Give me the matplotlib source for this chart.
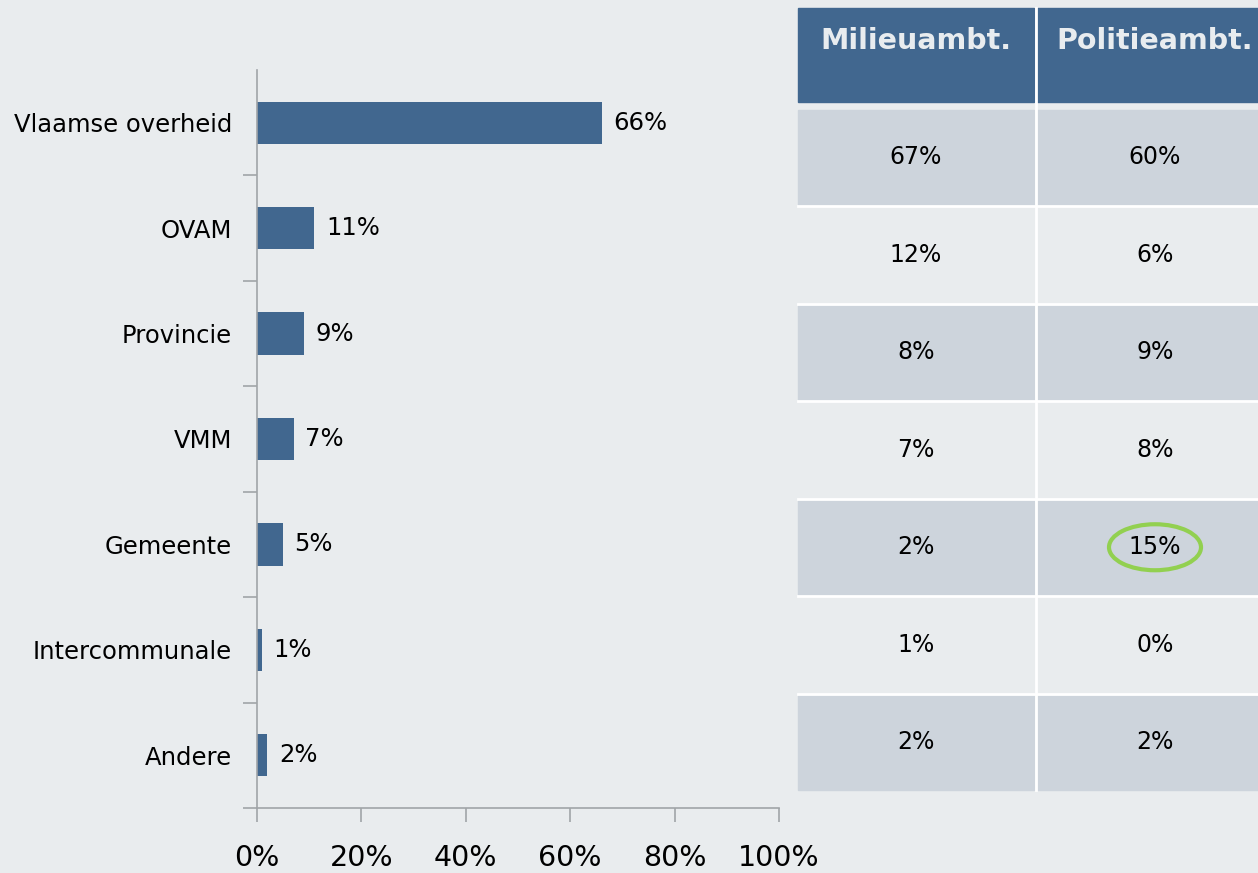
import matplotlib.pyplot as plt
from matplotlib.patches import Rectangle, Ellipse
from matplotlib.ticker import FixedLocator

# data
categorieen = ["Vlaamse overheid", "OVAM", "Provincie", "VMM", "Gemeente",
               "Intercommunale", "Andere"]
totaal = [66, 11, 9, 7, 5, 1, 2]
kolommen = ["Milieuambt.", "Politieambt."]
milieu = [67, 12, 8, 7, 2, 1, 2]
politie = [60, 6, 9, 8, 15, 0, 2]
x_ticks = [0, 20, 40, 60, 80, 100]

bg = "#E9ECEE"
blauw = "#41678F"
grijs = "#CDD4DC"
as_kleur = "#A0A4A8"

W, H = 1258, 873
fig = plt.figure(figsize=(W / 100, H / 100), dpi=100, facecolor=bg)

# ==========================================
# Staafdiagram
# ==========================================
ax = fig.add_axes([257 / W, 1 - 808 / H, (779 - 257) / W, (808 - 70) / H])
ax.set_facecolor(bg)
pos = list(range(len(categorieen)))
ax.barh(pos, totaal, height=0.4, color=blauw)
for p, v in zip(pos, totaal):
    ax.text(v + 2.2, p, f"{v}%", va="center", ha="left", fontsize=17.5, color="black")

ax.set_xlim(0, 100)
ax.set_ylim(len(categorieen) - 0.5, -0.5)
ax.set_yticks(pos)
ax.set_yticklabels(categorieen, fontsize=17.5)
ax.tick_params(axis="y", which="major", length=0, pad=18)
ax.yaxis.set_minor_locator(FixedLocator([p + 0.5 for p in pos]))
ax.tick_params(axis="y", which="minor", length=10, color=as_kleur, width=1.2)
ax.set_xticks(x_ticks)
ax.set_xticklabels([f"{t}%" for t in x_ticks], fontsize=20.5)
ax.tick_params(axis="x", length=10, color=as_kleur, width=1.2, pad=16)
for s in ["top", "right"]:
    ax.spines[s].set_visible(False)
for s in ["left", "bottom"]:
    ax.spines[s].set_color(as_kleur)
    ax.spines[s].set_linewidth(1.2)

# ==========================================
# Tabel
# ==========================================
tx = fig.add_axes([0, 0, 1, 1])
tx.set_xlim(0, W)
tx.set_ylim(H, 0)
tx.axis("off")
tx.patch.set_alpha(0)

x0, kol_b, gap = 798, 236, 3
kop_top, kop_h = 8, 94
rij_top, rij_h = 110, 97.5

for j, naam in enumerate(kolommen):
    x = x0 + j * (kol_b + gap)
    tx.add_patch(Rectangle((x, kop_top), kol_b, kop_h, color=blauw))
    tx.text(x + kol_b / 2, kop_top + 33, naam, ha="center", va="center",
            fontsize=20.5, fontweight="bold", color="#E8ECEF")
    waarden = milieu if j == 0 else politie
    for i, v in enumerate(waarden):
        y = rij_top + i * rij_h
        kleur = grijs if i % 2 == 0 else bg
        tx.add_patch(Rectangle((x, y), kol_b, rij_h - gap, color=kleur))
        tx.text(x + kol_b / 2, y + (rij_h - gap) / 2, f"{v}%", ha="center",
                va="center", fontsize=17, color="black")

# witte scheidingslijnen tussen de rijen
for i in range(1, len(milieu)):
    y = rij_top + i * rij_h - gap / 2
    tx.plot([x0, W], [y, y], color="white", lw=2)
tx.plot([x0 + kol_b + gap / 2] * 2, [kop_top, rij_top + len(milieu) * rij_h - gap],
        color="white", lw=2)

# groene markering rond 15%
i_max = politie.index(15)
tx.add_patch(Ellipse((x0 + kol_b + gap + kol_b / 2, rij_top + i_max * rij_h + (rij_h - gap) / 2),
                     92, 46, fill=False, edgecolor="#92D050", lw=3))

fig.savefig("out.png", dpi=100, facecolor=bg)
